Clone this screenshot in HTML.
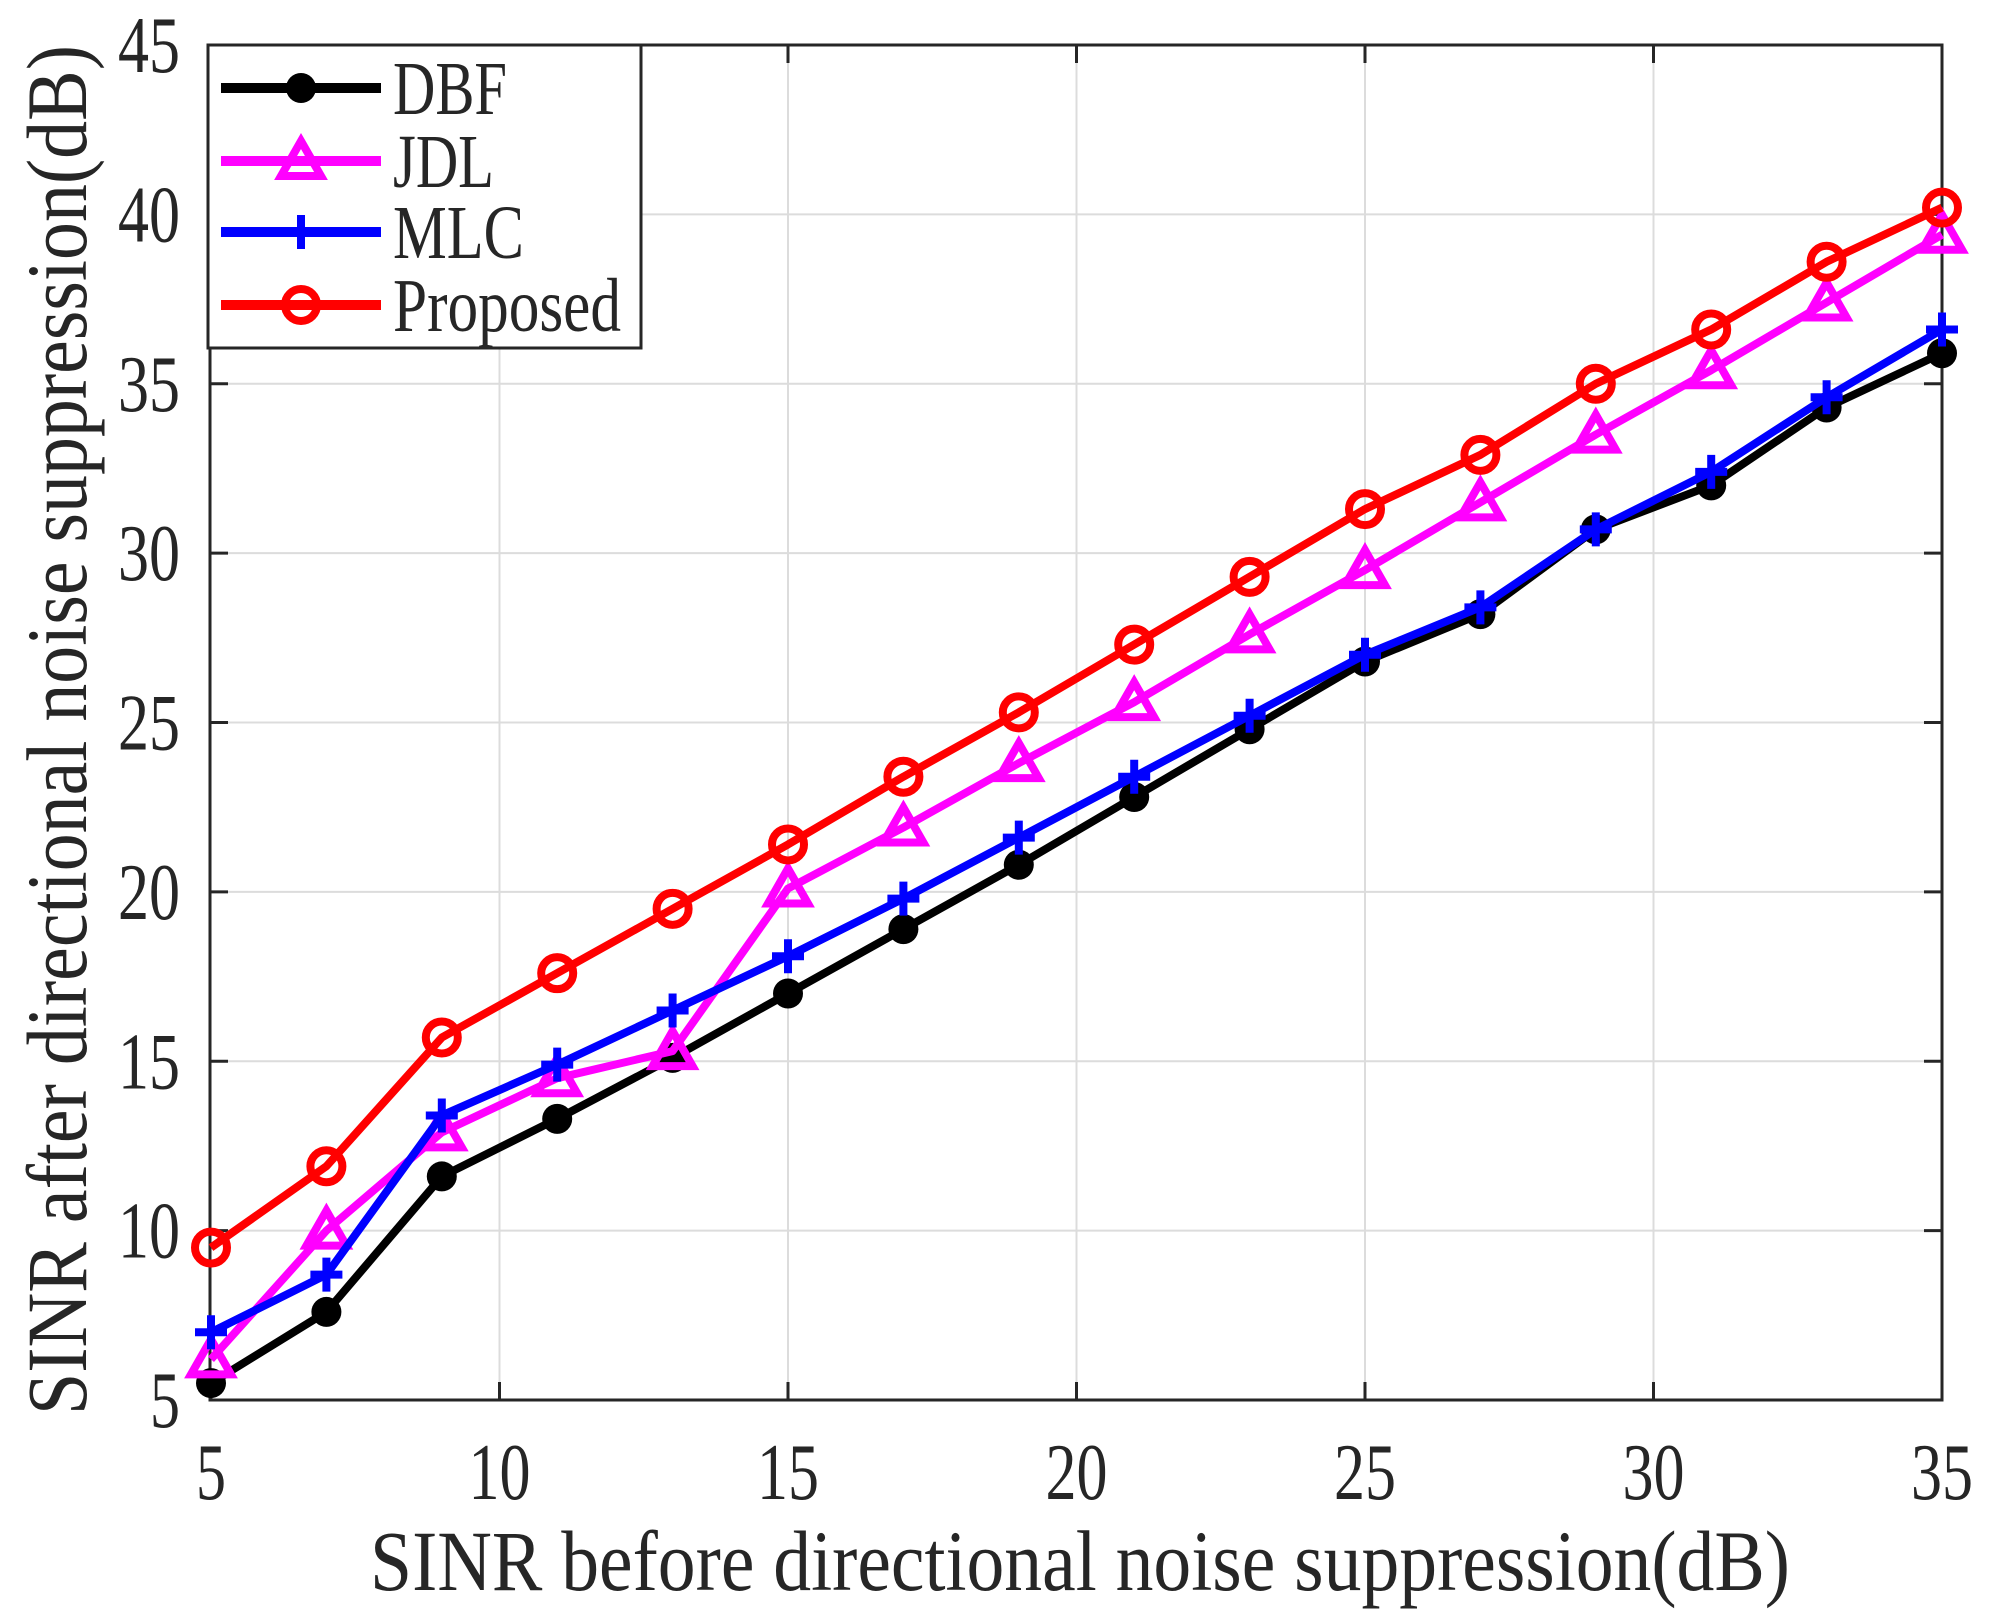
<!DOCTYPE html>
<html><head><meta charset="utf-8"><style>
html,body{margin:0;padding:0;background:#fff;}
svg{display:block;}
text{font-family:"Liberation Serif",serif;fill:#262626;}
</style></head><body>
<svg id="c" width="1990" height="1619" viewBox="0 0 1990 1619" xmlns="http://www.w3.org/2000/svg">
<rect width="1990" height="1619" fill="#fff"/>
<g id="grid" stroke="#dcdcdc" stroke-width="2"></g>
<g id="ticks" stroke="#262626" stroke-width="3"></g>
<rect x="210" y="45" width="1732" height="1355" fill="none" stroke="#262626" stroke-width="3"/>
<g id="labels" font-size="80"></g>
<g id="series"></g>
<text x="1080" y="1590" font-size="86" text-anchor="middle" textLength="1420" lengthAdjust="spacingAndGlyphs">SINR before directional noise suppression(dB)</text>
<text transform="translate(86,730) rotate(-90)" font-size="86" text-anchor="middle" textLength="1370" lengthAdjust="spacingAndGlyphs">SINR after  directional noise suppression(dB)</text>
<g id="legend">
<rect x="208" y="45" width="433" height="303" fill="#fff" stroke="#262626" stroke-width="3"/>
</g>
</svg>
<script>
const X=v=>211+(v-5)*1731/30, Y=v=>1400-(v-5)*1355/40;
const ns="http://www.w3.org/2000/svg";
function el(p,t,a,txt){const e=document.createElementNS(ns,t);for(const k in a)e.setAttribute(k,a[k]);if(txt!==undefined)e.textContent=txt;document.getElementById(p).appendChild(e);return e;}
for(let v=10;v<=30;v+=5){el('grid','line',{x1:X(v),x2:X(v),y1:45,y2:1400});}
for(let v=10;v<=40;v+=5){el('grid','line',{x1:210,x2:1942,y1:Y(v),y2:Y(v)});}
for(let v=5;v<=35;v+=5){el('ticks','line',{x1:X(v),x2:X(v),y1:1400,y2:1382});el('ticks','line',{x1:X(v),x2:X(v),y1:45,y2:63});
 el('labels','text',{x:X(v),y:1499,'text-anchor':'middle',textLength:v<10?30:62,lengthAdjust:'spacingAndGlyphs'},String(v));}
for(let v=5;v<=45;v+=5){el('ticks','line',{x1:210,x2:228,y1:Y(v),y2:Y(v)});el('ticks','line',{x1:1942,x2:1924,y1:Y(v),y2:Y(v)});
 el('labels','text',{x:180,y:Y(v)+27,'text-anchor':'end',textLength:v<10?30:62,lengthAdjust:'spacingAndGlyphs'},String(v));}
const xs=[5,7,9,11,13,15,17,19,21,23,25,27,29,31,33,35];
const S=[
 {c:'#000',m:'dot',d:[5.5,7.6,11.6,13.3,15.1,17,18.9,20.8,22.8,24.8,26.8,28.2,30.7,32,34.3,35.9]},
 {c:'#ff00ff',m:'tri',d:[6.2,10,12.9,14.5,15.3,20.1,21.9,23.8,25.6,27.6,29.5,31.5,33.5,35.4,37.4,39.4]},
 {c:'#0000ff',m:'plus',d:[7,8.7,13.4,14.9,16.5,18.1,19.8,21.6,23.4,25.2,27,28.4,30.7,32.4,34.6,36.6]},
 {c:'#ff0000',m:'circ',d:[9.5,11.9,15.7,17.6,19.5,21.4,23.4,25.3,27.3,29.3,31.3,32.9,35,36.6,38.6,40.2]}
];
function marker(p,m,c,x,y){
 if(m=='dot')el(p,'circle',{cx:x,cy:y,r:15,fill:c});
 if(m=='circ')el(p,'circle',{cx:x,cy:y,r:16,fill:'none',stroke:c,'stroke-width':8});
 if(m=='tri')el(p,'polygon',{points:`${x},${y-20} ${x+20},${y+15} ${x-20},${y+15}`,fill:'none',stroke:c,'stroke-width':8,'stroke-linejoin':'miter'});
 if(m=='plus'){el(p,'line',{x1:x-16,x2:x+16,y1:y,y2:y,stroke:c,'stroke-width':8});el(p,'line',{x1:x,x2:x,y1:y-17,y2:y+17,stroke:c,'stroke-width':8});}
}
S.forEach(s=>{
 el('series','polyline',{points:xs.map((x,i)=>X(x)+','+Y(s.d[i])).join(' '),fill:'none',stroke:s.c,'stroke-width':8,'stroke-linejoin':'round'});
 xs.forEach((x,i)=>marker('series',s.m,s.c,X(x),Y(s.d[i])));
});
const names=['DBF','JDL','MLC','Proposed'],ly=[88,161,232,305],lw=[114,101,131,228];
S.forEach((s,i)=>{
 el('legend','line',{x1:221,x2:381,y1:ly[i],y2:ly[i],stroke:s.c,'stroke-width':10});
 marker('legend',s.m,s.c,301,ly[i]);
 el('legend','text',{x:393,y:ly[i]+26,'font-size':76,fill:'#000',textLength:lw[i],lengthAdjust:'spacingAndGlyphs'},names[i]);
});
</script>
</body></html>
